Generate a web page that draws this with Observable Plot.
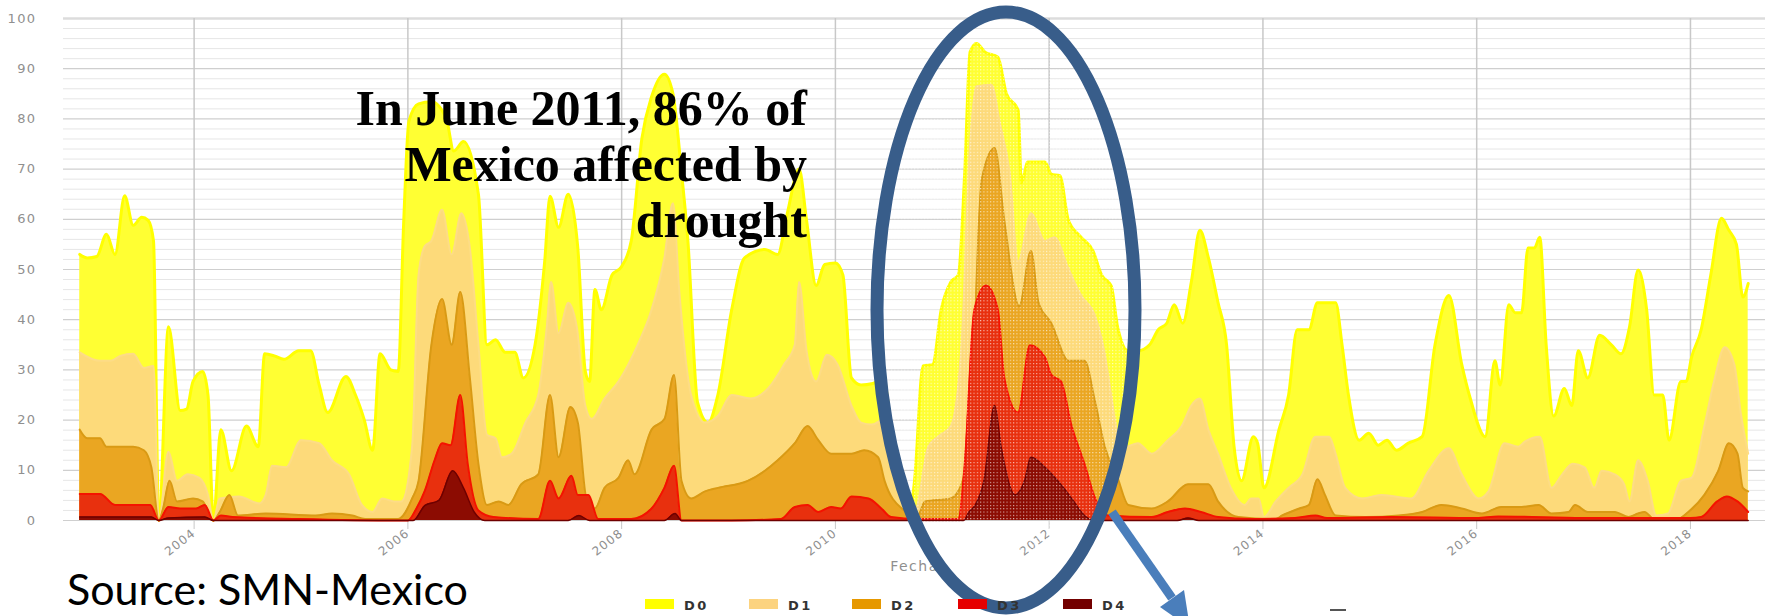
<!DOCTYPE html>
<html>
<head>
<meta charset="utf-8">
<script src="https://cdn.jsdelivr.net/npm/d3@7"></script>
<script src="https://cdn.jsdelivr.net/npm/@observablehq/plot@0.6"></script>
<style>
  html, body { margin: 0; padding: 0; background: #fff; }
  #chart { position: relative; width: 1765px; height: 616px; overflow: hidden; }
</style>
</head>
<body>
<div id="chart"></div>
<script>
// ---- Data (percent of Mexico's area, cumulative by category) ----
const seriesNames = ["D0", "D1", "D2", "D3", "D4"];
const legendColors = ["#FFFF00", "#FCD37F", "#E69800", "#E60000", "#730000"];
const yearTicks = [2004, 2006, 2008, 2010, 2012, 2014, 2016, 2018];
const yMajorTicks = [0, 10, 20, 30, 40, 50, 60, 70, 80, 90, 100];

const d0Years = [2002.93, 2003.00, 2003.09, 2003.18, 2003.26, 2003.35, 2003.43, 2003.51, 2003.57, 2003.62, 2003.67,
  2003.76, 2003.87, 2003.93, 2003.99, 2004.08, 2004.13, 2004.18, 2004.25, 2004.35, 2004.49, 2004.60, 2004.66,
  2004.75, 2004.84, 2004.98, 2005.09, 2005.17, 2005.25, 2005.42, 2005.51, 2005.59, 2005.67, 2005.74, 2005.84,
  2005.91, 2005.96, 2006.01, 2006.10, 2006.22, 2006.36, 2006.43, 2006.52, 2006.66, 2006.74, 2006.82, 2006.91,
  2007.00, 2007.08, 2007.19, 2007.28, 2007.33, 2007.41, 2007.50, 2007.59, 2007.66, 2007.70, 2007.75, 2007.81,
  2007.91, 2008.00, 2008.09, 2008.19, 2008.28, 2008.40, 2008.48, 2008.56, 2008.62, 2008.71, 2008.81, 2008.90,
  2009.03, 2009.15, 2009.34, 2009.46, 2009.55, 2009.66, 2009.73, 2009.82, 2009.90, 2010.00, 2010.07, 2010.15,
  2010.24, 2010.35, 2010.45, 2010.52, 2010.62, 2010.68, 2010.74, 2010.82, 2010.91, 2010.99, 2011.08, 2011.15,
  2011.21, 2011.26, 2011.32, 2011.40, 2011.52, 2011.60, 2011.71, 2011.74, 2011.80, 2011.96, 2012.02, 2012.10,
  2012.18, 2012.30, 2012.41, 2012.49, 2012.58, 2012.64, 2012.74, 2012.83, 2012.94, 2013.02, 2013.10, 2013.17,
  2013.25, 2013.33, 2013.41, 2013.49, 2013.58, 2013.66, 2013.73, 2013.80, 2013.91, 2013.95, 2014.01, 2014.15,
  2014.24, 2014.32, 2014.43, 2014.51, 2014.68, 2014.74, 2014.80, 2014.90, 2014.99, 2015.08, 2015.16, 2015.25,
  2015.36, 2015.49, 2015.61, 2015.74, 2015.86, 2015.94, 2016.08, 2016.17, 2016.22, 2016.30, 2016.36, 2016.42,
  2016.48, 2016.54, 2016.59, 2016.65, 2016.72, 2016.82, 2016.89, 2016.95, 2017.04, 2017.15, 2017.26, 2017.35,
  2017.43, 2017.51, 2017.59, 2017.66, 2017.74, 2017.80, 2017.91, 2017.96, 2018.01, 2018.10, 2018.19, 2018.29,
  2018.36, 2018.43, 2018.49, 2018.54];
const d0Values = [53.0, 52.3, 52.6, 57.0, 53.0, 64.7, 58.8, 60.4, 59.8, 55.7, 0,
  38.6, 21.9, 22.2, 27.7, 29.7, 25.0, 0, 18.1, 9.9, 18.8, 14.7, 33.2,
  32.8, 32.1, 33.8, 33.8, 27.0, 21.5, 28.7, 25.0, 20.2, 14.0, 33.2, 30.0,
  29.7, 59.0, 79.6, 83.0, 83.4, 80.0, 73.6, 75.5, 65.0, 35.0, 36.0, 33.5,
  33.5, 28.4, 35.0, 51.6, 64.6, 58.4, 65.0, 54.3, 29.7, 27.7, 46.0, 42.0,
  48.9, 50.6, 55.7, 76.2, 84.4, 88.9, 85.0, 69.4, 55.7, 23.6, 19.5, 25.0,
  42.0, 52.3, 54.0, 53.0, 61.2, 70.0, 59.8, 46.8, 51.0, 51.3, 48.9, 28.4,
  27.0, 27.3, 28.4, 18.8, 6.5, 0.3, 7.9, 30.8, 31.1, 42.0, 47.5, 48.9,
  69.4, 93.3, 95.0, 93.3, 92.3, 85.0, 81.7, 67.3, 71.4, 71.4, 69.0, 68.7,
  59.8, 56.4, 53.7, 48.9, 46.8, 38.6, 33.8, 33.8, 35.0, 38.0, 39.3, 43.0,
  39.3, 47.5, 57.8, 52.3, 43.4, 35.0, 14.7, 7.9, 16.7, 15.4, 6.5, 18.1,
  25.0, 38.0, 38.0, 43.4, 43.4, 35.0, 25.0, 16.0, 17.4, 15.0, 16.0, 14.0,
  15.4, 16.7, 35.0, 44.8, 31.1, 24.3, 16.7, 31.8, 27.0, 43.0, 41.4, 41.4,
  54.3, 54.3, 56.4, 35.0, 20.8, 26.3, 22.9, 33.8, 28.4, 36.9, 35.0, 33.2,
  38.6, 49.9, 42.0, 25.0, 25.0, 16.0, 27.7, 27.7, 32.5, 38.0, 48.9, 60.2,
  57.8, 55.0, 44.5, 47.2];

const d1Years = [2002.93, 2003.12, 2003.22, 2003.31, 2003.43, 2003.53, 2003.62, 2003.67,
  2003.76, 2003.84, 2003.94, 2004.05, 2004.13, 2004.18, 2004.24, 2004.42, 2004.61, 2004.67, 2004.73, 2004.86,
  2005.00, 2005.17, 2005.29, 2005.45, 2005.57, 2005.67, 2005.76, 2005.87, 2005.94, 2006.04, 2006.10, 2006.16,
  2006.22, 2006.32, 2006.41, 2006.50, 2006.58, 2006.66, 2006.74, 2006.82, 2006.88, 2006.97, 2007.10, 2007.22,
  2007.30, 2007.34, 2007.41, 2007.50, 2007.58, 2007.66, 2007.72, 2007.84, 2007.97, 2008.15, 2008.28, 2008.40,
  2008.48, 2008.54, 2008.65, 2008.78, 2008.90, 2009.03, 2009.21, 2009.37, 2009.52, 2009.62, 2009.66, 2009.73,
  2009.82, 2009.92, 2010.02, 2010.15, 2010.24, 2010.34, 2010.46, 2010.55, 2010.65, 2010.74, 2010.87, 2010.96,
  2011.08, 2011.18, 2011.26, 2011.32, 2011.46, 2011.54, 2011.63, 2011.71, 2011.83, 2011.96, 2012.05, 2012.18,
  2012.30, 2012.43, 2012.52, 2012.58, 2012.64, 2012.72, 2012.83, 2012.96, 2013.11, 2013.24, 2013.33, 2013.41,
  2013.49, 2013.58, 2013.70, 2013.83, 2013.89, 2013.96, 2014.01, 2014.12, 2014.24, 2014.37, 2014.49, 2014.62,
  2014.68, 2014.77, 2014.93, 2015.11, 2015.39, 2015.55, 2015.74, 2015.86, 2016.02, 2016.11, 2016.26, 2016.39,
  2016.45, 2016.59, 2016.70, 2016.79, 2016.90, 2017.01, 2017.10, 2017.17, 2017.29, 2017.38, 2017.43, 2017.51,
  2017.60, 2017.68, 2017.79, 2017.91, 2018.01, 2018.13, 2018.22, 2018.32, 2018.41, 2018.47, 2018.54];
const d1Values = [33.5, 31.8, 31.8, 32.8, 33.2, 30.4, 30.8, 0,
  13.7, 7.9, 9.2, 8.5, 5.1, 0, 4.4, 4.8, 3.4, 5.1, 10.9, 10.6,
  16.0, 15.4, 12.0, 9.2, 3.1, 1.7, 4.4, 3.8, 3.8, 14.7, 48.9, 54.7,
  55.7, 61.9, 53.0, 61.2, 54.3, 35.0, 17.1, 16.4, 12.6, 13.3, 19.5, 25.0,
  38.6, 47.5, 37.3, 43.4, 38.6, 22.9, 20.2, 24.3, 27.7, 35.0, 42.0, 52.3,
  63.2, 45.5, 25.0, 19.5, 20.8, 25.0, 24.3, 26.3, 31.1, 35.0, 47.5, 33.8,
  27.7, 33.0, 31.1, 22.9, 19.5, 19.1, 20.2, 15.4, 6.5, 1.7, 14.7, 16.7,
  18.8, 35.0, 74.8, 86.5, 86.8, 79.0, 69.4, 51.6, 61.2, 55.7, 56.4, 50.2,
  44.8, 40.7, 33.2, 25.0, 17.4, 14.7, 15.4, 13.3, 16.0, 18.8, 22.9, 24.3,
  18.1, 13.3, 6.5, 3.1, 4.4, 4.4, 0.7, 3.8, 6.5, 9.2, 16.7, 16.7,
  13.3, 6.5, 4.4, 5.1, 4.4, 9.9, 14.4, 9.2, 4.4, 5.8, 15.4, 14.7,
  15.7, 16.7, 6.5, 8.9, 11.3, 10.6, 6.5, 9.9, 9.2, 7.2, 3.8, 12.0,
  7.9, 1.0, 1.4, 7.9, 8.5, 18.8, 27.7, 34.5, 31.1, 21.5, 13.3];

const d2Years = [2002.93, 2003.00, 2003.12, 2003.18, 2003.43, 2003.53, 2003.60, 2003.67,
  2003.71, 2003.77, 2003.84, 2003.99, 2004.08, 2004.18, 2004.24, 2004.33, 2004.41, 2004.67, 2005.14, 2005.29,
  2005.48, 2005.60, 2005.91, 2006.04, 2006.10, 2006.22, 2006.32, 2006.41, 2006.49, 2006.58, 2006.66, 2006.74,
  2006.85, 2006.94, 2007.06, 2007.22, 2007.33, 2007.41, 2007.52, 2007.59, 2007.67, 2007.75, 2007.84, 2007.97,
  2008.06, 2008.12, 2008.28, 2008.40, 2008.49, 2008.56, 2008.65, 2008.78, 2008.90, 2009.18, 2009.34, 2009.46,
  2009.62, 2009.74, 2009.84, 2009.96, 2010.15, 2010.27, 2010.40, 2010.46, 2010.62, 2010.77, 2010.84, 2011.08,
  2011.18, 2011.27, 2011.37, 2011.49, 2011.58, 2011.72, 2011.83, 2011.90, 2012.02, 2012.18, 2012.33, 2012.43,
  2012.52, 2012.64, 2012.74, 2012.96, 2013.11, 2013.30, 2013.49, 2013.58, 2013.77, 2014.12, 2014.18, 2014.34,
  2014.43, 2014.51, 2014.58, 2014.68, 2014.96, 2015.27, 2015.49, 2015.67, 2015.86, 2016.05, 2016.23, 2016.42,
  2016.58, 2016.70, 2016.86, 2016.92, 2017.04, 2017.29, 2017.42, 2017.51, 2017.57, 2017.66, 2017.88, 2017.98,
  2018.13, 2018.26, 2018.36, 2018.44, 2018.49, 2018.54];
const d2Values = [18.1, 16.4, 16.4, 14.7, 14.7, 14.0, 10.6, 0,
  2.4, 7.9, 3.8, 4.4, 3.8, 0, 1.7, 5.1, 1.0, 1.4, 1.0, 1.4,
  1.0, 0.3, 0.3, 4.4, 7.9, 35.0, 44.1, 35.0, 45.5, 28.4, 11.3, 3.1,
  3.8, 3.1, 7.2, 9.2, 25.0, 12.6, 22.6, 19.5, 4.4, 2.4, 6.5, 8.5,
  12.0, 9.2, 18.1, 20.2, 29.0, 7.9, 4.4, 5.8, 6.5, 7.9, 9.9, 12.0,
  15.4, 18.8, 16.0, 13.3, 13.3, 14.0, 12.6, 7.9, 2.4, 1.0, 3.8, 4.4,
  7.2, 21.5, 68.0, 74.2, 59.8, 42.7, 53.7, 43.4, 39.3, 31.8, 31.8, 23.6,
  14.7, 8.5, 3.1, 2.4, 3.8, 7.2, 7.2, 3.8, 0.7, 0.3, 1.0, 2.4,
  3.1, 8.2, 5.1, 1.0, 0.7, 1.0, 1.7, 3.1, 2.4, 1.4, 2.7, 2.7,
  3.1, 1.4, 1.7, 3.1, 1.7, 1.7, 0.7, 1.4, 1.7, 0.3, 0.3, 1.7,
  5.1, 9.9, 15.4, 13.3, 6.5, 5.8];

const d3Years = [2002.93, 2003.12, 2003.26, 2003.59, 2003.67, 2003.76, 2003.87, 2004.02, 2004.10, 2004.18,
  2004.25, 2004.36, 2004.98, 2005.91, 2006.00, 2006.08, 2006.16, 2006.25, 2006.32, 2006.40, 2006.49, 2006.56,
  2006.66, 2006.80, 2007.22, 2007.33, 2007.41, 2007.53, 2007.59, 2007.69, 2007.78, 2008.09, 2008.28, 2008.40,
  2008.49, 2008.56, 2009.03, 2009.49, 2009.62, 2009.74, 2009.84, 2009.96, 2010.05, 2010.15, 2010.31, 2010.43,
  2010.52, 2010.77, 2011.15, 2011.21, 2011.30, 2011.41, 2011.52, 2011.58, 2011.71, 2011.82, 2011.96, 2012.02,
  2012.11, 2012.21, 2012.33, 2012.43, 2012.55, 2012.96, 2013.11, 2013.27, 2013.42, 2013.58, 2013.90, 2014.30,
  2014.49, 2014.60, 2015.20, 2016.00, 2016.20, 2017.00, 2018.00, 2018.10, 2018.25, 2018.34, 2018.44, 2018.54];
const d3Values = [5.3, 5.3, 3.1, 3.1, 0, 2.7, 2.4, 2.4, 3.1, 0,
  1.0, 0.7, 0.3, 0, 0, 2.4, 6.0, 12.0, 15.4, 15.0, 25.0, 11.3,
  2.0, 0.7, 0.3, 7.9, 4.4, 8.9, 5.1, 5.1, 0.3, 0.3, 2.4, 6.5,
  10.9, 0, 0, 0.3, 2.7, 3.1, 1.7, 2.7, 2.4, 4.8, 4.4, 2.4,
  0.7, 0.3, 0.3, 11.3, 42.0, 46.8, 42.0, 28.4, 21.5, 34.9, 32.5, 29.0,
  27.7, 18.8, 11.3, 4.4, 1.0, 0.7, 1.7, 2.4, 1.7, 0.7, 0.3, 0.5,
  1.0, 0.5, 0.7, 0.5, 0.8, 0.5, 0.5, 0.7, 3.8, 4.8, 3.8, 1.7];

const d4Years = [2002.93, 2003.60, 2003.67, 2003.76, 2004.10, 2004.18, 2006.05, 2006.16, 2006.29, 2006.42,
  2006.52, 2006.62, 2006.72, 2007.50, 2007.60, 2007.70, 2008.40, 2008.50, 2008.56, 2011.20, 2011.25, 2011.31,
  2011.39, 2011.49, 2011.55, 2011.68, 2011.77, 2011.83, 2011.96, 2012.08, 2012.21, 2012.33, 2012.43, 2013.20,
  2013.30, 2013.40, 2018.54];
const d4Values = [0.7, 0.7, 0, 0.5, 0.7, 0, 0, 3.0, 4.0, 9.9,
  6.5, 1.7, 0, 0, 1.0, 0, 0, 1.4, 0, 0, 1.7, 3.1,
  7.9, 22.9, 14.7, 5.1, 7.9, 12.6, 10.6, 7.9, 4.4, 1.0, 0, 0,
  0.5, 0, 0];

// ---- Build table ----
const yearsBySeries = [d0Years, d1Years, d2Years, d3Years, d4Years];
const valuesBySeries = [d0Values, d1Values, d2Values, d3Values, d4Values];
const fills = ["#FFFF33", "#FDDA7A", "#EAA622", "#E8300E", "#8C0C02"];
const strokes = ["#FFFF00", "#FDDC86", "#D99A14", "#F41200", "#6E0000"];
const strokeWidths = [3, 2, 2, 2, 1.5];
const seriesRows = seriesNames.map((name, k) =>
  yearsBySeries[k].map((x, i) => ({series: name, x, y: valuesBySeries[k][i]})));

const yMinorTicks = d3.range(2, 100, 2).filter(v => v % 10 !== 0);

const layerMarks = [];
seriesRows.forEach((rows, k) => {
  layerMarks.push(Plot.areaY(rows, {x: "x", y: "y", fill: fills[k], curve: "monotone-x"}));
  layerMarks.push(Plot.lineY(rows, {x: "x", y: "y", stroke: strokes[k], strokeWidth: strokeWidths[k], curve: "monotone-x"}));
});

const plot = Plot.plot({
  width: 1765,
  height: 616,
  marginLeft: 63,
  marginRight: 0,
  marginTop: 18,
  marginBottom: 96,
  style: {background: "#fff", fontFamily: "DejaVu Sans, sans-serif"},
  x: {type: "linear", domain: [2002.778, 2018.702]},
  y: {domain: [0, 100]},
  marks: [
    Plot.ruleY(yMinorTicks, {stroke: "#e6e6e6", strokeWidth: 1}),
    Plot.ruleY(yMajorTicks.filter(d => d < 100), {stroke: "#cfcfcf", strokeWidth: 1.2}),
    Plot.ruleY([100], {stroke: "#dcdcdc", strokeWidth: 2.5}),
    Plot.ruleX(yearTicks, {stroke: "#c8c8c8", strokeWidth: 1.5}),
    Plot.axisY(yMajorTicks, {tickSize: 0, tickPadding: 27, fontSize: 13, fill: "#8f8f8f", label: null, tickFormat: d => String(d)}),
    Plot.axisX(yearTicks, {tickSize: 9, stroke: "#c8c8c8", tickPadding: 2, tickRotate: -38, fontSize: 12, fill: "#8f8f8f", label: null, tickFormat: d => String(d)}),
    ...layerMarks,
    Plot.text(["Fecha"], {frameAnchor: "bottom", dy: 50, fontSize: 14, fill: "#8f8f8f"})
  ]
});

document.getElementById("chart").appendChild(plot);

// ---- Post-styling & annotations ----
const svg = d3.select(plot);
svg.selectAll('[aria-label="x-axis tick label"] text').attr("letter-spacing", 1.2);
svg.selectAll('[aria-label="y-axis tick label"] text').attr("letter-spacing", 1.4);
svg.selectAll('[aria-label="text"] text').attr("letter-spacing", 1.5);

// annotation text
const ann = svg.append("g")
  .attr("font-family", "Liberation Serif, serif")
  .attr("font-weight", "bold")
  .attr("font-size", 50)
  .attr("fill", "#000")
  .attr("text-anchor", "end");
[["In June 2011, 86% of", 125], ["Mexico affected by", 181], ["drought", 237]].forEach(([t, yb]) => {
  ann.append("text").attr("x", 807).attr("y", yb).text(t);
});

// dotted highlight inside ellipse
const defs = svg.append("defs");
const pat = defs.append("pattern").attr("id", "dots").attr("width", 3.3).attr("height", 3.3)
  .attr("patternUnits", "userSpaceOnUse");
pat.append("rect").attr("x", 0).attr("y", 0).attr("width", 1.1).attr("height", 1.1).attr("fill", "#fff").attr("fill-opacity", 0.7);
svg.append("ellipse").attr("cx", 1006).attr("cy", 310).attr("rx", 129).attr("ry", 298)
  .attr("fill", "url(#dots)").attr("stroke", "none");
svg.append("ellipse").attr("cx", 1006).attr("cy", 310).attr("rx", 129).attr("ry", 298)
  .attr("fill", "none").attr("stroke", "#385D8A").attr("stroke-width", 13);

// arrow
svg.append("line").attr("x1", 1112).attr("y1", 512).attr("x2", 1172).attr("y2", 598)
  .attr("stroke", "#4A7EBB").attr("stroke-width", 9);
svg.append("polygon").attr("points", "1160,607 1184,590 1190,628").attr("fill", "#4A7EBB");
svg.append("line").attr("x1", 1330).attr("y1", 610).attr("x2", 1346).attr("y2", 610)
  .attr("stroke", "#555").attr("stroke-width", 2);

// legend
const legX = [645, 749, 852, 958, 1063];
const leg = svg.append("g").attr("text-anchor", "start");
seriesNames.forEach((name, k) => {
  leg.append("rect").attr("x", legX[k]).attr("y", 599).attr("width", 29).attr("height", 10).attr("fill", legendColors[k]);
  leg.append("text").attr("x", legX[k] + 39).attr("y", 609.5)
    .attr("text-anchor", "start")
    .attr("font-family", "DejaVu Sans, sans-serif").attr("font-weight", "bold").attr("font-size", 13)
    .attr("letter-spacing", 2.5).attr("fill", "#333").text(name);
});

// source
svg.append("text").attr("x", 67).attr("y", 605)
  .attr("text-anchor", "start")
  .attr("font-family", "Lato, sans-serif").attr("font-size", 43).attr("fill", "#000")
  .text("Source: SMN-Mexico");
</script>
</body>
</html>
